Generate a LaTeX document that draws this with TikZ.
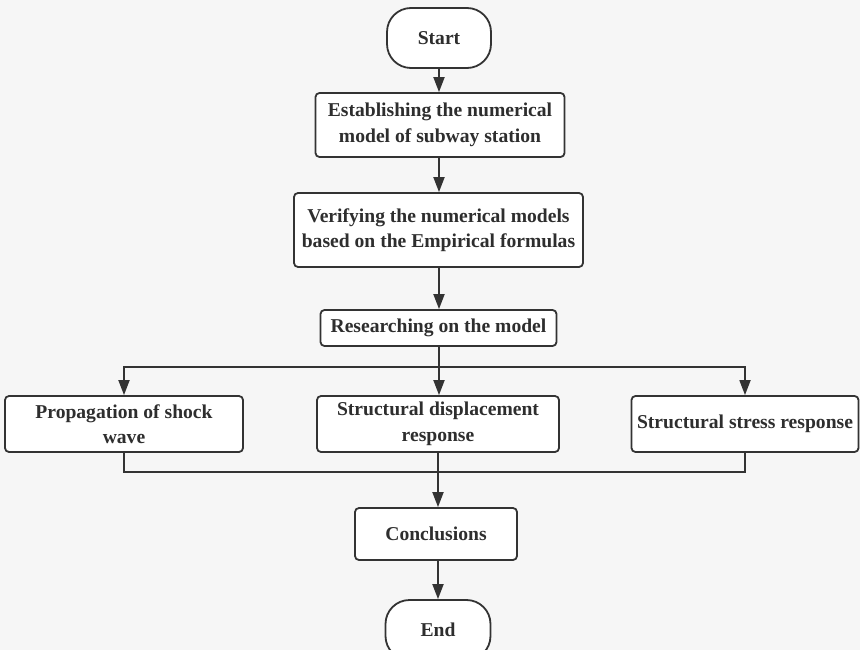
\documentclass[tikz,border=0pt]{standalone}
\usepackage{fontspec}
\setmainfont{Liberation Serif}
\usetikzlibrary{arrows.meta}
\definecolor{bg}{HTML}{F6F6F6}
\definecolor{ln}{HTML}{333333}
\begin{document}
\begin{tikzpicture}[x=1pt,y=-1pt,
  box/.style={draw=ln,line width=1.8pt,fill=white,rounded corners=4pt,align=center,
    font=\fontsize{19.6}{25.5}\selectfont\bfseries,text=ln!90!black,inner sep=0pt},
  term/.style={box,rounded corners=24pt},
  conn/.style={draw=ln,line width=1.8pt},
  arr/.style={conn,-{Triangle[length=15pt,width=11pt]}}]
\fill[bg] (0,0) rectangle (860,650);
\useasboundingbox (0,0) rectangle (860,650);
\node[term,minimum width=104pt,minimum height=60pt] (start) at (439,38) {Start};
\node[box,minimum width=249pt,minimum height=64pt] (b1) at (440,125) {Establishing the numerical\\model of subway station};
\node[box,minimum width=289pt,minimum height=74pt] (b2) at (438.5,230) {Verifying the numerical models\\based on the Empirical formulas};
\node[box,minimum width=236pt,minimum height=36pt] (b3) at (438.5,328) {Researching on the model};
\node[box,minimum width=238pt,minimum height=56pt] (l) at (124,424) {Propagation of shock\\wave};
\node[box,minimum width=242pt,minimum height=56pt] (m) at (438,424) {Structural displacement\\response};
\node[box,minimum width=227pt,minimum height=56pt] (r) at (745,424) {Structural stress response};
\node[box,minimum width=162pt,minimum height=52pt] (c) at (436,534) {Conclusions};
\node[term,minimum width=105pt,minimum height=60pt] (e) at (438,630) {End};
\coordinate (split) at (439,367);
\coordinate (join) at (438,472);
\draw[arr] (start) -- (b1.north -| start);
\draw[arr] (b1.south -| start) -- (b2.north -| start);
\draw[arr] (b2.south -| start) -- (b3.north -| start);
\draw[conn] (b3.south -| split) -- (split);
\draw[arr] (split) -| (l.north);
\draw[arr] (split) -| (r.north);
\draw[arr] (split) -- (m.north -| split);
\draw[conn] (l.south) |- (join);
\draw[conn] (r.south) |- (join);
\draw[conn] (m.south) -- (join);
\draw[arr] (join) -- (c.north -| join);
\draw[arr] (c.south -| e) -- (e.north);
\end{tikzpicture}
\end{document}
